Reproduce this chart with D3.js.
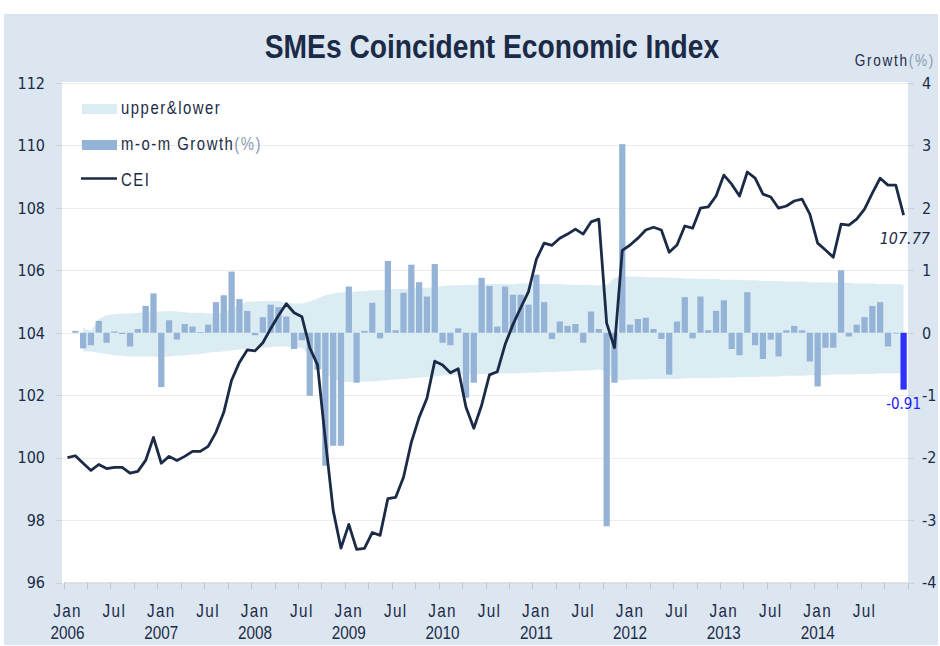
<!DOCTYPE html>
<html><head><meta charset="utf-8">
<script src="https://cdn.jsdelivr.net/npm/d3@7"></script>
<style>body{margin:0;background:#fff}svg{display:block}</style>
</head><body><svg id="c" width="940" height="646"></svg>
<script>
// ---------- DATA ----------
const title = "SMEs Coincident Economic Index";
const years = [2006, 2007, 2008, 2009, 2010, 2011, 2012, 2013, 2014];
const monthNames = ["Jan","Feb","Mar","Apr","May","Jun","Jul","Aug","Sep","Oct","Nov","Dec"];
const xLabelMonths = ["Jan", "Jul"];
const leftTicks = [96, 98, 100, 102, 104, 106, 108, 110, 112];
const rightTicks = [-4, -3, -2, -1, 0, 1, 2, 3, 4];

// CEI index (left axis), Jan 2006 .. Dec 2014
const cei = [
  100.00,100.06,99.82,99.59,99.78,99.65,99.69,99.69,99.50,99.56,99.91,100.65,
  99.82,100.04,99.91,100.04,100.20,100.20,100.36,100.81,101.45,102.48,103.05,103.45,
  103.42,103.68,104.13,104.55,104.93,104.64,104.51,103.52,102.97,100.56,98.31,97.10,
  97.86,97.06,97.09,97.60,97.51,98.69,98.73,99.37,100.49,101.29,101.90,103.09,
  102.97,102.72,102.85,101.61,100.94,101.68,102.65,102.75,103.62,104.26,104.80,105.32,
  106.35,106.87,106.80,107.03,107.16,107.32,107.16,107.55,107.64,104.31,103.52,106.64,
  106.81,107.03,107.29,107.38,107.29,106.58,106.81,107.42,107.35,107.99,108.03,108.38,
  109.05,108.76,108.38,109.15,108.95,108.44,108.35,107.99,108.06,108.22,108.28,107.80,
  106.87,106.65,106.42,107.48,107.45,107.64,107.96,108.47,108.95,108.73,108.73,107.77
];
// m-o-m growth (%) (right axis)
const growth = [
  null,0.03,-0.25,-0.20,0.19,-0.16,0.02,-0.02,-0.22,0.06,0.43,0.63,
  -0.87,0.20,-0.11,0.14,0.10,0.01,0.13,0.49,0.60,0.98,0.54,0.35,
  -0.04,0.25,0.45,0.41,0.26,-0.26,-0.12,-1.01,-0.59,-2.13,-1.81,-1.81,
  0.74,-0.80,0.03,0.48,-0.09,1.15,0.04,0.64,1.09,0.81,0.58,1.10,
  -0.16,-0.20,0.07,-1.04,-0.80,0.88,0.75,0.10,0.74,0.61,0.61,0.45,
  0.93,0.49,-0.10,0.18,0.11,0.14,-0.16,0.34,0.06,-3.10,-0.80,3.02,
  0.13,0.22,0.24,0.06,-0.10,-0.67,0.18,0.57,-0.09,0.58,0.04,0.35,
  0.52,-0.26,-0.36,0.65,-0.20,-0.42,-0.11,-0.38,0.04,0.11,0.04,-0.46,
  -0.86,-0.24,-0.24,1.00,-0.06,0.13,0.25,0.43,0.49,-0.22,-0.01,-0.91
];
// upper & lower band (right axis units)
const upper = [
  null,null,0.08,0.03,0.22,0.28,0.30,0.31,0.31,0.32,0.33,0.34,
  0.34,0.35,0.34,0.33,0.32,0.32,0.31,0.31,0.32,0.38,0.45,0.50,
  0.50,0.51,0.51,0.51,0.48,0.47,0.47,0.50,0.55,0.60,0.63,0.65,
  0.65,0.66,0.67,0.68,0.68,0.69,0.70,0.70,0.71,0.71,0.72,0.73,
  0.75,0.76,0.76,0.77,0.77,0.77,0.78,0.78,0.78,0.78,0.79,0.79,
  0.79,0.78,0.78,0.78,0.77,0.77,0.77,0.76,0.76,0.76,0.88,0.90,
  0.90,0.90,0.89,0.89,0.89,0.88,0.88,0.87,0.87,0.86,0.86,0.86,
  0.85,0.85,0.85,0.84,0.84,0.83,0.83,0.83,0.82,0.82,0.82,0.81,
  0.81,0.81,0.80,0.80,0.80,0.79,0.79,0.79,0.78,0.78,0.78,0.77
];
const lower = [
  null,null,-0.30,-0.30,-0.32,-0.34,-0.36,-0.37,-0.38,-0.38,-0.38,-0.38,
  -0.39,-0.38,-0.37,-0.36,-0.35,-0.34,-0.32,-0.31,-0.30,-0.28,-0.27,-0.26,
  -0.25,-0.24,-0.23,-0.22,-0.22,-0.23,-0.25,-0.35,-0.50,-0.65,-0.74,-0.78,
  -0.79,-0.79,-0.78,-0.78,-0.77,-0.76,-0.75,-0.74,-0.73,-0.72,-0.71,-0.70,
  -0.68,-0.68,-0.67,-0.67,-0.67,-0.66,-0.66,-0.66,-0.65,-0.65,-0.65,-0.64,
  -0.64,-0.63,-0.63,-0.62,-0.62,-0.61,-0.61,-0.60,-0.59,-0.62,-0.75,-0.76,
  -0.75,-0.75,-0.75,-0.74,-0.74,-0.74,-0.74,-0.73,-0.73,-0.73,-0.73,-0.72,
  -0.72,-0.72,-0.71,-0.71,-0.71,-0.70,-0.70,-0.70,-0.69,-0.69,-0.69,-0.68,
  -0.68,-0.68,-0.67,-0.67,-0.67,-0.66,-0.66,-0.66,-0.65,-0.65,-0.65,-0.65
];

// ---------- CHART ----------
const navy = "#1b2b47";
const numFont = "'DejaVu Sans Condensed','DejaVu Sans',sans-serif";
const txtFont = "'Liberation Sans',Arial,sans-serif";
const SX = 0.85; // horizontal condensing of label text

const cats = years.flatMap(y => monthNames.map((m, i) => ({ y, m, i, key: y + "-" + (i + 1) })));
const rows = cats.map((c, k) => ({ ...c, cei: cei[k], g: growth[k], up: upper[k], lo: lower[k], last: k === cats.length - 1 }));

const svg = d3.select("#c");
const W = 940, H = 646;
const L = 63.6, R = 907.5, T = 83, B = 582.5;

const x = d3.scaleBand().domain(cats.map(d => d.key)).range([L, R]).paddingInner(0.2).paddingOuter(0.1);
const step = x.step(), bw = x.bandwidth();
const cx = k => x(k) + bw / 2;
const yL = d3.scaleLinear().domain([96, 112]).range([B, T]);
const yR = d3.scaleLinear().domain([-4, 4]).range([B, T]);

// backgrounds
svg.append("rect").attr("x", 0).attr("y", 0).attr("width", W).attr("height", H).attr("fill", "#fff");
svg.append("rect").attr("x", 4).attr("y", 14).attr("width", W - 6).attr("height", H - 15).attr("fill", "#dce6f1");
svg.append("rect").attr("x", 62).attr("y", 82).attr("width", 908 - 62).attr("height", B - 82 + 1).attr("fill", "#fff");

// grid
svg.append("g").selectAll("line").data(leftTicks.filter(t => t !== 96)).join("line")
  .attr("x1", 62).attr("x2", 908).attr("y1", d => Math.round(yL(d)) + 0.5).attr("y2", d => Math.round(yL(d)) + 0.5)
  .attr("stroke", "#ececec").attr("stroke-width", 1);

// band
const bandRows = rows.filter(d => d.up != null && d.lo != null);
svg.append("path").datum(bandRows)
  .attr("d", d3.area().x(d => cx(d.key)).y0(d => yR(d.lo)).y1(d => yR(d.up)))
  .attr("fill", "#dbedf3");

// bars
svg.append("g").selectAll("rect").data(rows.filter(d => d.g != null)).join("rect")
  .attr("x", d => x(d.key)).attr("width", bw)
  .attr("y", d => yR(Math.max(0, d.g))).attr("height", d => Math.max(0.8, Math.abs(yR(d.g) - yR(0))))
  .attr("fill", d => d.last ? "#3030ff" : "#95b3d7");

// line
svg.append("path").datum(rows)
  .attr("d", d3.line().x(d => cx(d.key)).y(d => yL(d.cei)))
  .attr("fill", "none").attr("stroke", navy).attr("stroke-width", 2.8).attr("stroke-linejoin", "round");

// bottom axis
const gx = svg.append("g");
gx.append("line").attr("x1", L).attr("x2", R + 0.5).attr("y1", B + 0.5).attr("y2", B + 0.5).attr("stroke", "#c8c8c8");
const tickPos = cats.filter(c => c.i % 3 === 0).map(c => x(c.key) - (step - bw) / 2).concat([R]);
gx.selectAll("line.t").data(tickPos).join("line").attr("class", "t")
  .attr("x1", d => Math.round(d) + 0.5).attr("x2", d => Math.round(d) + 0.5).attr("y1", B).attr("y2", B + 7)
  .attr("stroke", "#c8c8c8");
gx.selectAll("text.m").data(cats.filter(c => xLabelMonths.includes(c.m))).join("text").attr("class", "m")
  .attr("transform", d => `translate(${cx(d.key)},617) scale(${SX},1)`).attr("text-anchor", "middle")
  .attr("font-family", txtFont).attr("font-size", 18).attr("letter-spacing", 1.6).attr("fill", navy).text(d => d.m);
gx.selectAll("text.y").data(cats.filter(c => c.i === 0)).join("text").attr("class", "y")
  .attr("transform", d => `translate(${cx(d.key)},639) scale(${SX},1)`).attr("text-anchor", "middle")
  .attr("font-family", txtFont).attr("font-size", 18).attr("fill", navy).text(d => d.y);

// left axis
const gl = svg.append("g");
gl.selectAll("line").data(leftTicks).join("line")
  .attr("x1", 56).attr("x2", 62).attr("y1", d => Math.round(yL(d)) + 0.5).attr("y2", d => Math.round(yL(d)) + 0.5).attr("stroke", "#d0d0d0");
gl.selectAll("text").data(leftTicks).join("text")
  .attr("x", 45).attr("y", d => yL(d)).attr("dy", "0.36em").attr("text-anchor", "end")
  .attr("font-family", numFont).attr("font-size", 16).attr("fill", navy).text(d => d);

// right axis
const gr = svg.append("g");
gr.selectAll("line").data(rightTicks).join("line")
  .attr("x1", 908).attr("x2", 914).attr("y1", d => Math.round(yR(d)) + 0.5).attr("y2", d => Math.round(yR(d)) + 0.5).attr("stroke", "#d0d0d0");
gr.selectAll("text").data(rightTicks).join("text")
  .attr("x", 922).attr("y", d => yR(d)).attr("dy", "0.36em").attr("text-anchor", "start")
  .attr("font-family", numFont).attr("font-size", 16).attr("fill", navy).text(d => d);

// title
svg.append("text").attr("transform", `translate(492,58) scale(0.855,1)`).attr("text-anchor", "middle")
  .attr("font-family", txtFont).attr("font-weight", "bold").attr("font-size", 33)
  .attr("fill", navy).text(title);

// Growth(%) axis title
const gt = svg.append("text").attr("transform", `translate(935,66) scale(${SX},1)`).attr("text-anchor", "end")
  .attr("font-family", txtFont).attr("font-size", 16).attr("letter-spacing", 2).attr("fill", navy);
gt.append("tspan").text("Growth");
gt.append("tspan").attr("fill", "#8a9ab0").text("(%)");

// end labels
const lastRow = rows[rows.length - 1];
svg.append("text").attr("x", 930).attr("y", yL(lastRow.cei) + 29).attr("text-anchor", "end")
  .attr("font-family", numFont).attr("font-style", "italic").attr("font-size", 16).attr("fill", navy)
  .text(lastRow.cei.toFixed(2));
svg.append("text").attr("x", cx(lastRow.key)).attr("y", yR(lastRow.g) + 19).attr("text-anchor", "middle")
  .attr("font-family", numFont).attr("font-size", 15).attr("fill", "#2020ff")
  .text(lastRow.g.toFixed(2));

// legend
const lg = svg.append("g");
lg.append("rect").attr("x", 82).attr("y", 104).attr("width", 35).attr("height", 10).attr("fill", "#dbedf3");
lg.append("rect").attr("x", 82).attr("y", 140).attr("width", 35).attr("height", 10).attr("fill", "#95b3d7");
lg.append("line").attr("x1", 81).attr("x2", 117).attr("y1", 178.5).attr("y2", 178.5).attr("stroke", navy).attr("stroke-width", 2.4);
const legTxt = (yy) => lg.append("text").attr("transform", `translate(121,${yy}) scale(${SX},1)`).attr("font-family", txtFont)
  .attr("font-size", 17.5).attr("letter-spacing", 1.8).attr("fill", navy);
legTxt(114).text("upper&lower");
const t2 = legTxt(150); t2.append("tspan").text("m-o-m Growth"); t2.append("tspan").attr("fill", "#8a9ab0").text("(%)");
legTxt(186).text("CEI");
</script></body></html>
